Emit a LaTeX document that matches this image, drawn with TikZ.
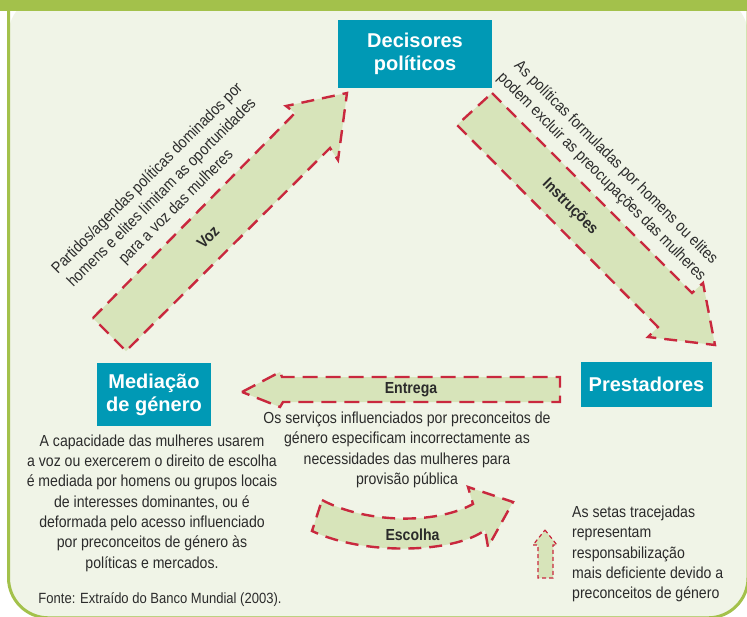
\documentclass[tikz,border=0pt]{standalone}
\usepackage{fontspec}
\setmainfont{Liberation Sans}
\newfontfamily\condfont[FakeStretch=0.88]{Liberation Sans}
\definecolor{band}{HTML}{A3C14B}
\definecolor{bgc}{HTML}{F0F4E7}
\definecolor{tealbox}{HTML}{0099B5}
\definecolor{arrowfill}{HTML}{D7E4BA}
\definecolor{dashred}{HTML}{C9283E}
\definecolor{txt}{HTML}{2B2B2B}
\begin{document}
\begin{tikzpicture}[x=1pt,y=-1pt,
  actor/.style={fill=tealbox, text=white, font=\fontsize{20}{23}\selectfont\bfseries, align=center, inner sep=0pt},
  bigarrow/.style={fill=arrowfill, draw=dashred, line width=2.4pt, dash pattern=on 13pt off 8pt, line join=miter},
  smallarrow/.style={fill=arrowfill, draw=dashred, line width=1.2pt, dash pattern=on 4pt off 3pt},
  desc/.style={text=txt, font=\condfont\fontsize{16}{20.3}\selectfont, align=center, inner sep=0pt},
  lbl/.style={text=txt, font=\condfont\bfseries\fontsize{16}{20}\selectfont, inner sep=0pt}]
\useasboundingbox (0,0) rectangle (747,616);
\fill[white] (0,0) rectangle (747,616);
\begin{scope}
\clip (0,0) rectangle (747,616);
\fill[bgc, rounded corners=40pt] (8.5,-5) -- (8.5,617.8) -- (748,617.8) -- (748,-5) -- cycle;
\draw[band, line width=3pt, rounded corners=40pt] (8.5,-5) -- (8.5,617.8) -- (748,617.8) -- (748,-5);
\fill[band] (0,0) rectangle (747,10.7);
\end{scope}

% actors
\node[actor, minimum width=154pt, minimum height=68pt] (dec) at (415,54) {Decisores\\políticos};
\node[actor, minimum width=131pt, minimum height=45pt] (pre) at (646.5,384.5) {Prestadores};
\node[actor, minimum width=114pt, minimum height=63pt] (med) at (154,394.5) {Mediação\\de género};

% Voz arrow
\draw[bigarrow] (93,318) -- (295,113) -- (286,106) -- (347,93) -- (338,160) -- (330,148) -- (126,351) -- cycle;
% Instrucoes arrow
\draw[bigarrow] (492,93) -- (692,293) -- (703,283) -- (715,345) -- (648,337) -- (658,327) -- (457,125) -- cycle;
% Entrega arrow
\draw[bigarrow, dash pattern=on 15pt off 8pt] (242,392) -- (280,372) -- (282,377) -- (560,377) -- (560,402) -- (283,402) -- (280,407) -- cycle;
% Escolha arrow
\draw[bigarrow] (322,500) .. controls (365,523) and (435,525) .. (473,504) -- (468,487) -- (513,502) -- (488,547) -- (485,530)
   .. controls (455,553) and (365,556) .. (312,531) -- cycle;
% legend arrow
\draw[smallarrow] (545,530) -- (557,545) -- (553,545) -- (553,578) -- (538,578) -- (538,545) -- (533,545) -- cycle;

% labels on arrows
\node[lbl, rotate=45] (voz) at (208,237) {Voz};
\node[lbl, rotate=-45] (ins) at (570,207) {Instruções};
\node[lbl] (ent) at (411,390) {Entrega};
\node[lbl] (esc) at (412.5,535) {Escolha};

% descriptions
\node[desc, rotate=45] (dvoz) at (162,193) {Partidos/agendas políticas dominados por\\homens e elites limitam as oportunidades\\para a voz das mulheres};
\node[desc, rotate=-45] (dins) at (608.5,170) {As políticas formuladas por homens ou elites\\podem excluir as preocupações das mulheres};
\node[desc] (dent) at (407,450) {Os serviços influenciados por preconceitos de\\género especificam incorrectamente as\\necessidades das mulheres para\\provisão pública};
\node[desc] (dmed) at (152,503) {A capacidade das mulheres usarem\\a voz ou exercerem o direito de escolha\\é mediada por homens ou grupos locais\\de interesses dominantes, ou é\\deformada pelo acesso influenciado\\por preconceitos de género às\\políticas e mercados.};
\node[desc, anchor=base, font=\condfont\fontsize{14.8}{18}\selectfont] (fonte) at (160,603) {Fonte: Extraído do Banco Mundial (2003).};
\node[desc, align=left, anchor=west] (leg) at (572,554) {As setas tracejadas\\representam\\responsabilização\\mais deficiente devido a\\preconceitos de género};
\end{tikzpicture}
\end{document}
